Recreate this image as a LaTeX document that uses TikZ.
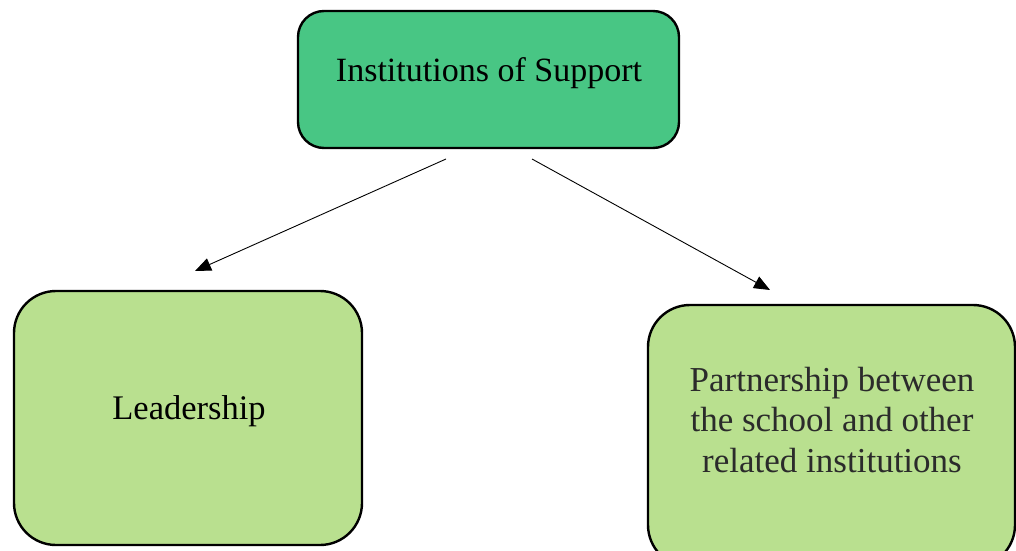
\documentclass[tikz,border=0pt]{standalone}
\usepackage{fontspec}
\setmainfont{Liberation Serif}
\usetikzlibrary{arrows.meta}
\definecolor{topgreen}{HTML}{48C684}
\definecolor{lowgreen}{HTML}{B9E08F}
\definecolor{textgray}{HTML}{2B2B2B}
\tikzset{
  box/.style={draw=black, line width=2.4pt, rounded corners=#1, inner sep=0pt, align=center},
  conn/.style={line width=0.9pt, -{Triangle[length=16pt,width=13pt]}},
}
\begin{document}
\begin{tikzpicture}[x=1pt,y=1pt]
\useasboundingbox (0,0) rectangle (1016,550);
\node[box=26pt, fill=topgreen, minimum width=381pt, minimum height=137pt] (top) at (488.5,470.5) {};
\node[font=\fontsize{34}{40}\selectfont] (toptext) at (489,477) {Institutions of Support};
\node[box=42pt, fill=lowgreen, minimum width=348pt, minimum height=254pt] (left) at (188,132) {};
\node[font=\fontsize{34.5}{40}\selectfont] (lefttext) at (189,139) {Leadership};
\node[box=42pt, fill=lowgreen, minimum width=367pt, minimum height=262pt] (right) at (831.5,114) {};
\node[font=\fontsize{35}{40.5}\selectfont, text=textgray, align=center] (righttext) at (832,130) {Partnership between\\the school and other\\related institutions};
\coordinate (a1s) at (446,391);
\coordinate (a1e) at (195,279);
\coordinate (a2s) at (532,391);
\coordinate (a2e) at (770,260);
\draw[conn] (a1s) -- (a1e);
\draw[conn] (a2s) -- (a2e);
\end{tikzpicture}
\end{document}
